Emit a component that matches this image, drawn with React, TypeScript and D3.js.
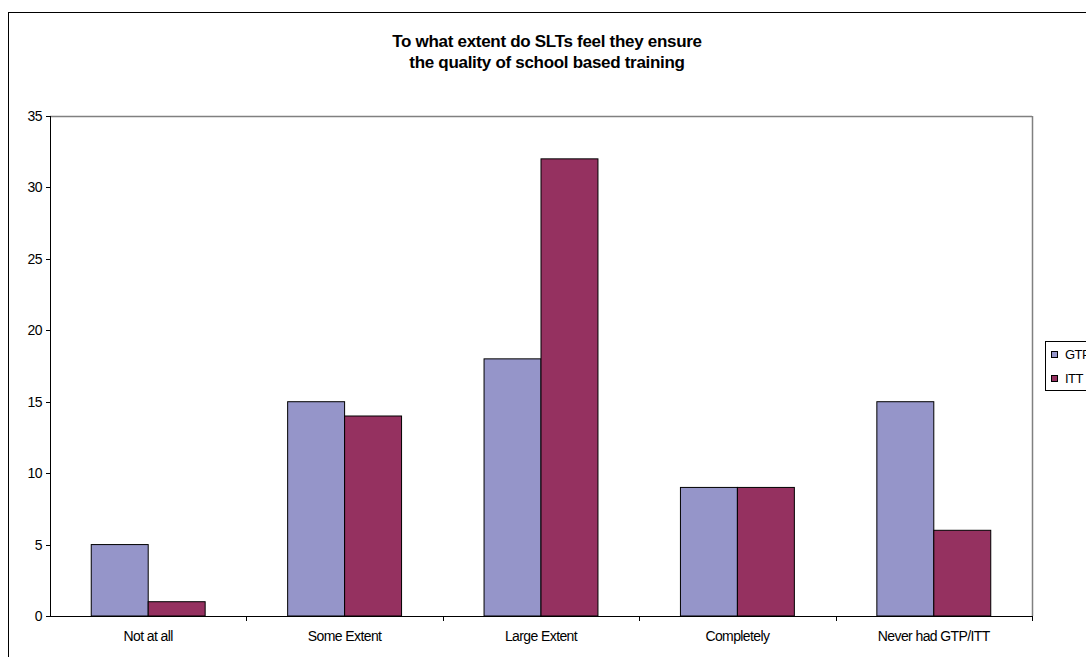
import React from "react";
import * as d3 from "d3";

const categories = ["Not at all", "Some Extent", "Large Extent", "Completely", "Never had GTP/ITT"];
const seriesNames = ["GTP", "ITT"];
const gtpValues = [5, 15, 18, 9, 15];
const ittValues = [1, 14, 32, 9, 6];
const yTicks = [0, 5, 10, 15, 20, 25, 30, 35];
const titleLines = ["To what extent do SLTs feel they ensure", "the quality of school based training"];

const colors = ["#9595C9", "#953160"];

export default function App() {
  const W = 1086, H = 657;
  const left = 50, right = 1032, top = 116, bottom = 616;
  const x = d3.scaleBand<string>().domain(categories).range([left, right]).paddingInner(0).paddingOuter(0);
  const y = d3.scaleLinear().domain([0, 35]).range([bottom, top]);
  const bw = x.bandwidth();
  const barW = bw * 0.29;
  const groupOffset = (bw - 2 * barW) / 2;
  const series = [gtpValues, ittValues];
  const font = "'Liberation Sans', Arial, sans-serif";

  return (
    <svg width={W} height={H} style={{ position: "absolute", left: 0, top: 0, background: "#fff" }} fontFamily={font}>
      <rect x={8.5} y={12.5} width={1200} height={800} fill="#fff" stroke="#000" strokeWidth={1} />
      {titleLines.map((t, i) => (
        <text key={i} x={547} y={47 + i * 21} textAnchor="middle" fontSize={17} fontWeight="bold" fill="#000" letterSpacing={-0.3}>{t}</text>
      ))}
      {/* plot border */}
      <line x1={left} x2={right} y1={top + 0.5} y2={top + 0.5} stroke="#808080" strokeWidth={1.5} />
      <line x1={right + 0.5} x2={right + 0.5} y1={top} y2={bottom} stroke="#808080" strokeWidth={1.5} />
      {/* bars */}
      {categories.map((c, ci) => (
        <g key={c}>
          {series.map((vals, si) => {
            const x0 = (x(c) as number) + groupOffset + si * barW;
            return (
              <rect key={si} x={x0} y={y(vals[ci])} width={barW} height={bottom - y(vals[ci])}
                fill={colors[si]} stroke="#000" strokeWidth={1} />
            );
          })}
        </g>
      ))}
      {/* y axis */}
      <line x1={left + 0.5} x2={left + 0.5} y1={top} y2={bottom} stroke="#000" strokeWidth={1} />
      {yTicks.map((t) => (
        <g key={t}>
          <line x1={left - 4} x2={left} y1={Math.round(y(t)) + 0.5} y2={Math.round(y(t)) + 0.5} stroke="#000" />
          <text x={42} y={y(t) + 5} textAnchor="end" fontSize={14} fill="#000" letterSpacing={-0.5}>{t}</text>
        </g>
      ))}
      {/* x axis */}
      <line x1={left} x2={right + 1} y1={bottom + 0.5} y2={bottom + 0.5} stroke="#000" strokeWidth={1} />
      {categories.map((c, i) => (
        <line key={"t" + i} x1={Math.round((x(c) as number) + bw) + 0.5} x2={Math.round((x(c) as number) + bw) + 0.5}
          y1={bottom} y2={bottom + 5} stroke="#000" />
      ))}
      {categories.map((c) => (
        <text key={"l" + c} x={(x(c) as number) + bw / 2} y={641} textAnchor="middle" fontSize={14} fill="#000" letterSpacing={-0.6}>{c}</text>
      ))}
      {/* legend */}
      <rect x={1045.5} y={341.5} width={80} height={49} fill="#fff" stroke="#000" strokeWidth={1} />
      {seriesNames.map((n, i) => (
        <g key={n}>
          <rect x={1051.5} y={351.5 + i * 24} width={6} height={6} fill={colors[i]} stroke="#000" strokeWidth={1} />
          <text x={1065} y={359 + i * 24} fontSize={13} fill="#000" letterSpacing={-0.5}>{n}</text>
        </g>
      ))}
    </svg>
  );
}
